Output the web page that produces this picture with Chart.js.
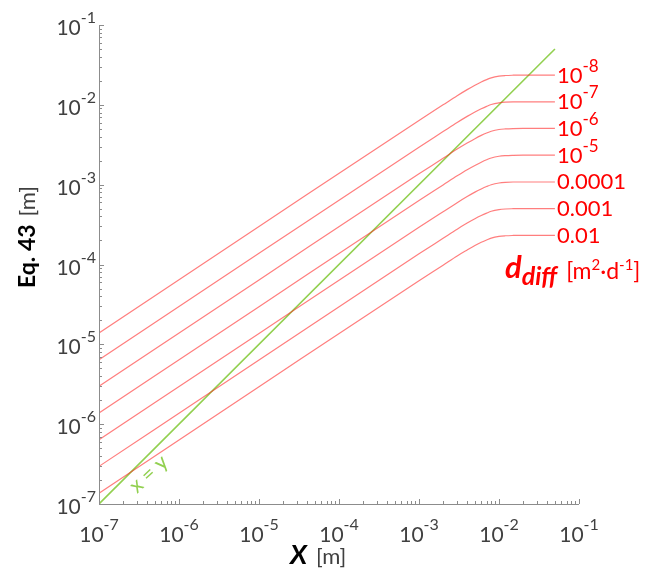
<!DOCTYPE html>
<html>
<head>
<meta charset="utf-8">
<script src="https://cdn.jsdelivr.net/npm/chart.js@4.4.0/dist/chart.umd.min.js"></script>
<style>
  html, body { margin: 0; padding: 0; background: #fff; }
  #wrap { width: 652px; height: 577px; }
</style>
</head>
<body>
<div id="wrap"><canvas id="myChart" width="652" height="577"></canvas></div>
<script>
// x positions (m) where the curves were read
const xValues = [1e-7, 1e-5, 1e-3, 2e-3, 3e-3, 4e-3, 5e-3, 6e-3, 7e-3, 8e-3, 1e-2, 1.2e-2, 1.5e-2, 2e-2, 5e-2];

// Eq. 43 values (m), one list per d_diff
const d1e8 = [1.39e-5, 2.99e-4, 6.38e-3, 1.00e-2, 1.30e-2, 1.55e-2, 1.76e-2, 1.93e-2, 2.07e-2, 2.18e-2, 2.29e-2, 2.33e-2, 2.35e-2, 2.36e-2, 2.36e-2];
const d1e7 = [6.43e-6, 1.38e-4, 2.95e-3, 4.62e-3, 6.01e-3, 7.17e-3, 8.14e-3, 8.92e-3, 9.57e-3, 1.01e-2, 1.06e-2, 1.08e-2, 1.09e-2, 1.09e-2, 1.09e-2];
const d1e6 = [2.98e-6, 6.41e-5, 1.37e-3, 2.14e-3, 2.79e-3, 3.32e-3, 3.77e-3, 4.14e-3, 4.44e-3, 4.67e-3, 4.91e-3, 4.99e-3, 5.04e-3, 5.06e-3, 5.06e-3];
const d1e5 = [1.38e-6, 2.96e-5, 6.32e-4, 9.91e-4, 1.29e-3, 1.54e-3, 1.74e-3, 1.91e-3, 2.05e-3, 2.16e-3, 2.27e-3, 2.31e-3, 2.33e-3, 2.34e-3, 2.34e-3];
const d1e4 = [6.37e-7, 1.37e-5, 2.92e-4, 4.58e-4, 5.95e-4, 7.10e-4, 8.06e-4, 8.84e-4, 9.48e-4, 9.98e-4, 1.05e-3, 1.07e-3, 1.08e-3, 1.08e-3, 1.08e-3];
const d1e3 = [2.96e-7, 6.36e-6, 1.36e-4, 2.13e-4, 2.77e-4, 3.30e-4, 3.75e-4, 4.11e-4, 4.40e-4, 4.64e-4, 4.87e-4, 4.96e-4, 5.00e-4, 5.02e-4, 5.02e-4];
const d1e2 = [1.36e-7, 2.94e-6, 6.27e-5, 9.82e-5, 1.28e-4, 1.52e-4, 1.73e-4, 1.90e-4, 2.03e-4, 2.14e-4, 2.25e-4, 2.29e-4, 2.31e-4, 2.32e-4, 2.32e-4];

const seriesList = [d1e8, d1e7, d1e6, d1e5, d1e4, d1e3, d1e2];
const seriesLabels = ['10^-8', '10^-7', '10^-6', '10^-5', '0.0001', '0.001', '0.01'];

// x = y reference line
const identityX = [1e-7, 5e-2];
const identityY = [1e-7, 5e-2];

// decade ticks
const xTickExps = [-7, -6, -5, -4, -3, -2, -1];
const yTickExps = [-7, -6, -5, -4, -3, -2, -1];

const FONT = 'Lato, "Open Sans", sans-serif';
const RED = '#ff0000';
const GREEN = '#92d050';
const AXIS = '#8c8c8c';
const TEXT = '#404040';

// draws "10^-n" style text, with the part after ^ raised
const drawSup = (ctx, text, x, y, align, big, small, rise) => {
  const parts = text.split('^');
  ctx.font = big + 'px ' + FONT;
  const wb = ctx.measureText(parts[0]).width;
  let we = 0;
  if (parts[1]) {
    ctx.font = small + 'px ' + FONT;
    we = ctx.measureText(parts[1]).width;
  }
  const w = wb + we;
  let left = x;
  if (align === 'center') left = x - w / 2;
  if (align === 'right') left = x - w;
  ctx.textAlign = 'left';
  ctx.textBaseline = 'alphabetic';
  ctx.font = big + 'px ' + FONT;
  ctx.fillText(parts[0], left, y);
  if (parts[1]) {
    ctx.font = small + 'px ' + FONT;
    ctx.fillText(parts[1], left + wb, y - rise);
  }
};

const axesPlugin = {
  id: 'axesPlugin',
  afterDraw(chart) {
    const ctx = chart.ctx;
    const xs = chart.scales.x;
    const ys = chart.scales.y;
    const a = chart.chartArea;
    ctx.save();

    // axis lines
    ctx.strokeStyle = AXIS;
    ctx.lineWidth = 1;
    ctx.beginPath();
    ctx.moveTo(a.left + 0.5, a.top);
    ctx.lineTo(a.left + 0.5, a.bottom + 0.5);
    ctx.lineTo(a.right, a.bottom + 0.5);
    ctx.stroke();

    // ticks, pointing inside
    ctx.beginPath();
    xTickExps.forEach((e, i) => {
      const px = Math.round(xs.getPixelForValue(Math.pow(10, e))) + 0.5;
      ctx.moveTo(px, a.bottom);
      ctx.lineTo(px, a.bottom - 5);
      if (i < xTickExps.length - 1) {
        for (let m = 2; m < 10; m++) {
          const mx = Math.round(xs.getPixelForValue(m * Math.pow(10, e))) + 0.5;
          ctx.moveTo(mx, a.bottom);
          ctx.lineTo(mx, a.bottom - 3);
        }
      }
    });
    yTickExps.forEach((e, i) => {
      const py = Math.round(ys.getPixelForValue(Math.pow(10, e))) + 0.5;
      ctx.moveTo(a.left, py);
      ctx.lineTo(a.left + 5, py);
      if (i < yTickExps.length - 1) {
        for (let m = 2; m < 10; m++) {
          const my = Math.round(ys.getPixelForValue(m * Math.pow(10, e))) + 0.5;
          ctx.moveTo(a.left, my);
          ctx.lineTo(a.left + 3, my);
        }
      }
    });
    ctx.stroke();

    // tick labels
    ctx.fillStyle = TEXT;
    xTickExps.forEach(e => {
      const px = xs.getPixelForValue(Math.pow(10, e));
      drawSup(ctx, '10^' + e, px, a.bottom + 38, 'center', 21, 16, 12);
    });
    yTickExps.forEach(e => {
      const py = ys.getPixelForValue(Math.pow(10, e));
      drawSup(ctx, '10^' + e, a.left - 3, py + 10, 'right', 21, 16, 12);
    });

    // axis titles
    ctx.fillStyle = '#000';
    ctx.textAlign = 'left';
    ctx.font = 'italic bold 27px ' + FONT;
    ctx.fillText('X', 290, 564);
    const wX = ctx.measureText('X').width;
    ctx.fillStyle = TEXT;
    ctx.font = '22px ' + FONT;
    ctx.fillText('[m]', 290 + wX + 9, 564);

    ctx.save();
    ctx.translate(35, 288);
    ctx.rotate(-Math.PI / 2);
    ctx.fillStyle = '#000';
    ctx.font = 'bold 23px ' + FONT;
    ctx.fillText('Eq. 43', 0, 0);
    const wEq = ctx.measureText('Eq. 43').width;
    ctx.fillStyle = TEXT;
    ctx.font = '22px ' + FONT;
    ctx.fillText('[m]', wEq + 8, 0);
    ctx.restore();

    // curve labels at the right end
    ctx.fillStyle = RED;
    seriesList.forEach((s, i) => {
      const py = ys.getPixelForValue(s[s.length - 1]);
      drawSup(ctx, seriesLabels[i], 557, py + 7.5, 'left', 22, 17, 11);
    });

    // d_diff legend title
    ctx.font = 'italic bold 31px ' + FONT;
    ctx.fillText('d', 505, 278);
    let cx = 505 + ctx.measureText('d').width;
    ctx.font = 'italic bold 25px ' + FONT;
    ctx.fillText('diff', cx, 285);
    cx += ctx.measureText('diff').width + 9;
    const pieces = [['[m', 0, 23], ['2', 9, 15], ['\u00b7d', 0, 23], ['-1', 9, 15], [']', 0, 23]];
    pieces.forEach(p => {
      ctx.font = p[2] + 'px ' + FONT;
      ctx.fillText(p[0], cx, 279 - p[1]);
      cx += ctx.measureText(p[0]).width;
    });

    // x = y label
    ctx.save();
    ctx.translate(137, 494);
    ctx.rotate(-43 * Math.PI / 180);
    ctx.fillStyle = GREEN;
    ctx.font = '21px ' + FONT;
    ctx.fillText('x = y', 0, 0);
    ctx.restore();

    ctx.restore();
  }
};

const datasets = seriesList.map((s, i) => ({
  label: seriesLabels[i],
  data: xValues.map((x, j) => ({ x: x, y: s[j] })),
  borderColor: 'rgba(255, 40, 40, 0.6)',
  borderWidth: 1.2,
  pointRadius: 0,
  cubicInterpolationMode: 'monotone',
  fill: false
}));

datasets.push({
  label: 'x = y',
  data: identityX.map((x, j) => ({ x: x, y: identityY[j] })),
  borderColor: GREEN,
  borderWidth: 1.6,
  pointRadius: 0,
  fill: false
});

const ctx = document.getElementById('myChart');
new Chart(ctx, {
  type: 'line',
  data: { datasets: datasets },
  options: {
    responsive: false,
    devicePixelRatio: 1,
    animation: false,
    layout: { padding: { left: 99, right: 73, top: 25, bottom: 73 } },
    scales: {
      x: { type: 'logarithmic', min: 1e-7, max: 1e-1, display: false },
      y: { type: 'logarithmic', min: 1e-7, max: 1e-1, display: false }
    },
    plugins: {
      legend: { display: false },
      tooltip: { enabled: false }
    }
  },
  plugins: [axesPlugin]
});
</script>
</body>
</html>
